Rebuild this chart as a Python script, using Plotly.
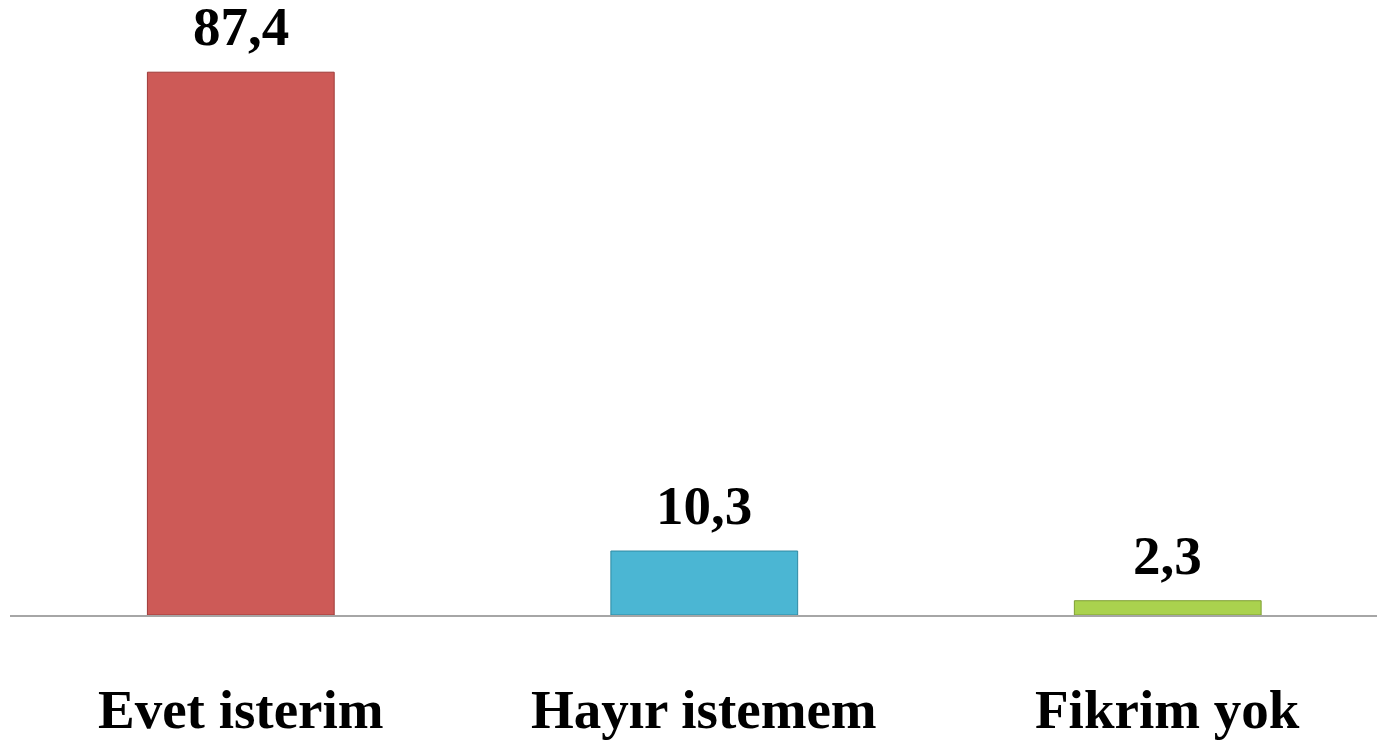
import plotly.graph_objects as go

categories = ['Evet isterim', 'Hayır istemem', 'Fikrim yok']
values = [87.4, 10.3, 2.3]
colors = ['#CD5A57', '#4BB6D3', '#AAD24E']
edge_colors = ['#9E3A38', '#2F8AA3', '#7E9E33']

labels = [f"{v:.1f}".replace('.', ',') for v in values]
font_family = "Liberation Serif"
font_size = 55

fig = go.Figure()
fig.add_trace(
    go.Bar(
        x=categories,
        y=values,
        width=0.403,
        marker=dict(color=colors, line=dict(color=edge_colors, width=1)),
        hoverinfo='skip'
    )
)

# value labels above the bars
for cat, val, lab in zip(categories, values, labels):
    fig.add_annotation(
        x=cat, y=val, text=f"<b>{lab}</b>",
        showarrow=False, yanchor='bottom', yshift=13,
        font=dict(family=font_family, size=font_size, color='black')
    )

# category labels below the axis
for cat in categories:
    fig.add_annotation(
        x=cat, y=0, yref='paper', text=f"<b>{cat}</b>",
        showarrow=False, yanchor='top', yshift=-62,
        font=dict(family=font_family, size=font_size, color='black')
    )

fig.update_layout(
    width=1385, height=740,
    margin=dict(l=2, r=0, t=17, b=133),
    plot_bgcolor='white', paper_bgcolor='white',
    showlegend=False,
    xaxis=dict(
        range=[-0.498, 2.486], automargin=False,
        showline=True, linecolor='#A6A6A6', linewidth=2,
        ticks='', showticklabels=False
    ),
    yaxis=dict(
        range=[0, 95], visible=False, showgrid=False, automargin=False
    )
)

fig.write_html("out.html")
